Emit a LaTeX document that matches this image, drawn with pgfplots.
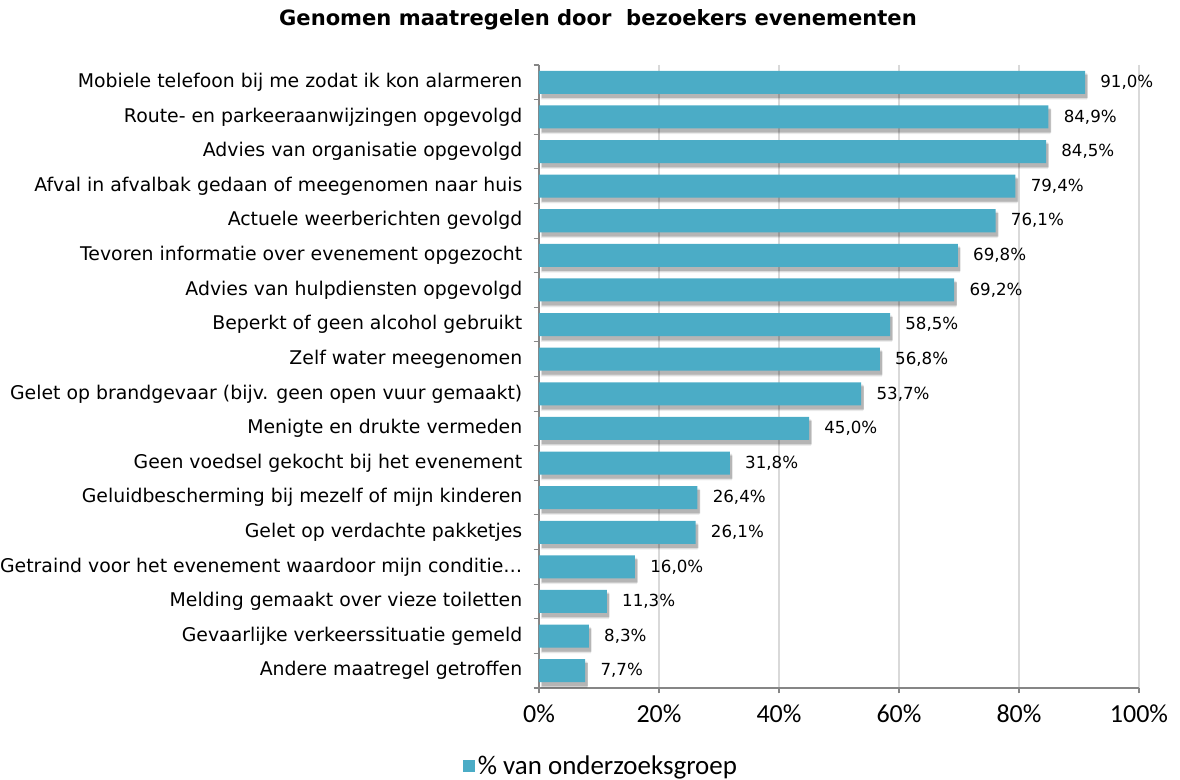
\documentclass[border=0pt]{standalone}
\usepackage{fontspec}
\setmainfont{DejaVu Sans}
\newfontfamily\calfont{Carlito}
\usepackage{pgfplots}
\pgfplotsset{compat=1.18}
\definecolor{barc}{HTML}{4BACC6}
\definecolor{gridc}{HTML}{D9D9D9}
\definecolor{axc}{HTML}{868686}
\pgfplotstableread{
val pos
91.0 0
84.9 1
84.5 2
79.4 3
76.1 4
69.8 5
69.2 6
58.5 7
56.8 8
53.7 9
45.0 10
31.8 11
26.4 12
26.1 13
16.0 14
11.3 15
8.3 16
7.7 17
}\datatab
\begin{document}
\begin{tikzpicture}
\useasboundingbox (-404.25pt,-69pt) rectangle (480.75pt,516pt);
\begin{axis}[
 at={(0,0)}, anchor=south west,
 scale only axis, width=450pt, height=467.25pt,
 xbar, bar width=17.25pt, bar shift=0pt,
 xmin=0, xmax=100, ymin=-0.5, ymax=17.5, y dir=reverse,
 axis x line*=bottom, axis y line*=left,
 axis line style={axc, line width=1pt},
 tick align=outside,
 major tick length=4pt, minor tick length=4pt,
 tick style={axc, line width=0.8pt},
 major y tick style={draw=none},
 ytick={0,...,17},
 minor ytick={-0.5,0.5,...,17.5},
 yticklabels={
  Mobiele telefoon bij me zodat ik kon alarmeren,
  Route- en parkeeraanwijzingen opgevolgd,
  Advies van organisatie opgevolgd,
  Afval in afvalbak gedaan of meegenomen naar huis,
  Actuele weerberichten gevolgd,
  Tevoren informatie over evenement opgezocht,
  Advies van hulpdiensten opgevolgd,
  Beperkt of geen alcohol gebruikt,
  Zelf water meegenomen,
  Gelet op brandgevaar (bijv. geen open vuur gemaakt),
  Menigte en drukte vermeden,
  Geen voedsel gekocht bij het evenement,
  Geluidbescherming bij mezelf of mijn kinderen,
  Gelet op verdachte pakketjes,
  Getraind voor het evenement waardoor mijn conditie…,
  Melding gemaakt over vieze toiletten,
  Gevaarlijke verkeerssituatie gemeld,
  Andere maatregel getroffen},
 yticklabel style={font=\fontsize{14.15}{16}\selectfont, xshift=-5pt},
 xtick={0,20,40,60,80,100},
 xticklabels={0\%,20\%,40\%,60\%,80\%,100\%},
 xticklabel style={font=\calfont\fontsize{19.5}{22}\selectfont, yshift=-5pt},
 xmajorgrids, grid style={gridc, line width=0.8pt},
 /pgf/number format/assume math mode=true,
 legend style={draw=none, at={(axis description cs:0.104,-0.125)}, anchor=center, font=\calfont\fontsize{20.2}{22}\selectfont, inner sep=1pt},
 legend image code/.code={\fill[barc] (0pt,-4.5pt) rectangle (9pt,4.5pt);},
]
\addplot[fill=black, draw=none, opacity=0.07, xshift=1.5pt, yshift=-3pt, bar width=20pt, forget plot] table[x=val,y=pos] {\datatab};
\addplot[fill=black, draw=none, opacity=0.10, xshift=2pt, yshift=-3pt, bar width=18.5pt, forget plot] table[x=val,y=pos] {\datatab};
\addplot[fill=black, draw=none, opacity=0.15, xshift=2pt, yshift=-3pt, forget plot] table[x=val,y=pos] {\datatab};
\addplot[fill=barc, draw=none,
 nodes near coords={\pgfmathprintnumber[fixed,fixed zerofill,precision=1,use comma]{\pgfplotspointmeta}\%},
 every node near coord/.append style={font=\fontsize{12.5}{14}\selectfont, anchor=west, xshift=8pt, black, opacity=1}] table[x=val,y=pos] {\datatab};
\addlegendentry{\% van onderzoeksgroep}
\end{axis}
\node[font=\bfseries\fontsize{15.8}{18}\selectfont] at (44.25pt,501pt) {Genomen maatregelen door\ \ bezoekers evenementen};
\end{tikzpicture}
\end{document}
